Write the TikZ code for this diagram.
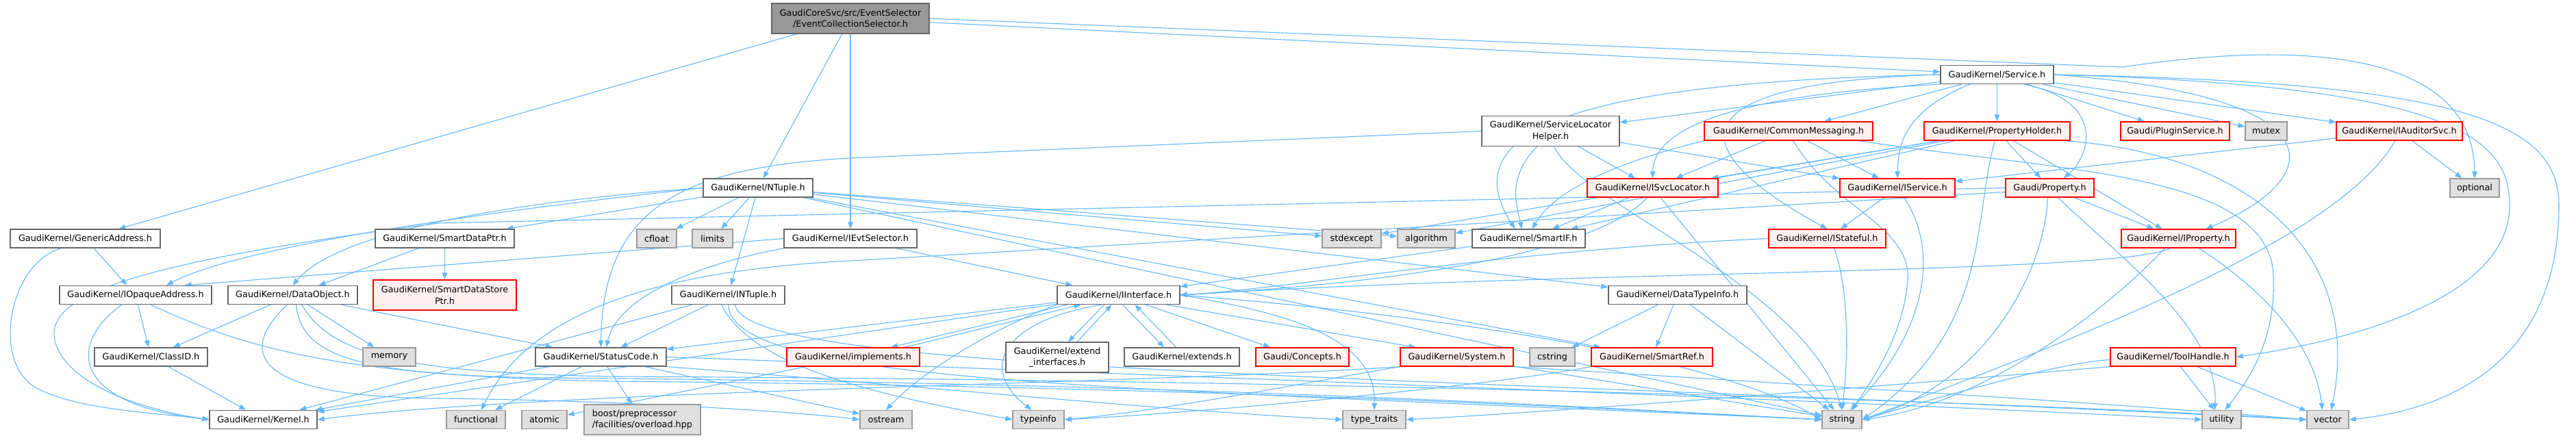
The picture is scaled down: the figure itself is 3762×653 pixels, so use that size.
\documentclass[tikz,border=0pt]{standalone}
\usepackage{fontspec}
\setmainfont{DejaVu Sans}
\usetikzlibrary{arrows.meta}
\definecolor{edgec}{HTML}{63B8FF}
\definecolor{wbd}{HTML}{666666}
\definecolor{gbd}{HTML}{999999}
\definecolor{gfill}{HTML}{E0E0E0}
\definecolor{rfill}{HTML}{FFF0F0}
\definecolor{mfill}{HTML}{999999}
\pgfdeclarelayer{edgelayer}
\pgfsetlayers{edgelayer,main}
\tikzset{
 nbase/.style={rectangle, inner sep=0pt, minimum height=27pt, line width=1.3pt, font=\fontsize{12.8}{16.5}\selectfont, align=center, text=black},
 wbox/.style={nbase, draw=wbd, fill=white},
 gbox/.style={nbase, draw=gbd, fill=gfill},
 rbox/.style={nbase, draw=red, fill=rfill},
 mbox/.style={nbase, draw=wbd, fill=mfill},
 tall/.style={minimum height=44pt},
 edg/.style={draw=edgec, line width=1.1pt, -{Triangle[length=10pt,width=7.5pt]}},
}
\begin{document}
\begin{tikzpicture}[x=1pt,y=-1pt]
\useasboundingbox (0,0) rectangle (3762,653);
% row 0-1
\node[mbox,tall,minimum width=230pt] (main) at (1242,27) {GaudiCoreSvc/src/EventSelector\\/EventCollectionSelector.h};
\node[wbox,minimum width=165pt] (svc) at (2916.5,109) {GaudiKernel/Service.h};
% row 2
\node[wbox,tall,minimum width=201pt] (slh) at (2264.5,191.5) {GaudiKernel/ServiceLocator\\Helper.h};
\node[rbox,minimum width=246pt] (cmsg) at (2612,191.5) {GaudiKernel/CommonMessaging.h};
\node[rbox,minimum width=213pt] (ph) at (2916.5,191.5) {GaudiKernel/PropertyHolder.h};
\node[rbox,minimum width=159pt] (plug) at (3176.5,191.5) {Gaudi/PluginService.h};
\node[gbox,minimum width=61pt] (mutex) at (3309.5,191.5) {mutex};
\node[rbox,minimum width=184pt] (iaud) at (3504,191.5) {GaudiKernel/IAuditorSvc.h};
% row 3
\node[wbox,minimum width=160pt] (ntup) at (1107,274.5) {GaudiKernel/NTuple.h};
\node[rbox,minimum width=191pt] (isl) at (2413.5,274.5) {GaudiKernel/ISvcLocator.h};
\node[rbox,minimum width=168pt] (isvc) at (2771,274.5) {GaudiKernel/IService.h};
\node[rbox,minimum width=129pt] (prop) at (2993.5,274.5) {Gaudi/Property.h};
\node[gbox,minimum width=72pt] (opt) at (3614,274.5) {optional};
% row 4
\node[wbox,minimum width=219pt] (ga) at (124.5,348.5) {GaudiKernel/GenericAddress.h};
\node[wbox,minimum width=203pt] (sdp) at (649.5,348.5) {GaudiKernel/SmartDataPtr.h};
\node[gbox,minimum width=58pt] (cfloat) at (959,348.5) {cfloat};
\node[gbox,minimum width=59pt] (limits) at (1040.5,348.5) {limits};
\node[wbox,minimum width=194pt] (ievt) at (1242,348.5) {GaudiKernel/IEvtSelector.h};
\node[gbox,minimum width=86pt] (stdexc) at (1974,348.5) {stdexcept};
\node[gbox,minimum width=84pt] (algo) at (2083,348.5) {algorithm};
\node[wbox,minimum width=165pt] (sif) at (2232.5,348.5) {GaudiKernel/SmartIF.h};
\node[rbox,minimum width=171pt] (istat) at (2668.5,348.5) {GaudiKernel/IStateful.h};
\node[rbox,minimum width=167pt] (iprop) at (3181.5,348.5) {GaudiKernel/IProperty.h};
% row 5
\node[wbox,minimum width=222pt] (iop) at (198,431) {GaudiKernel/IOpaqueAddress.h};
\node[wbox,minimum width=189pt] (dobj) at (427.5,431) {GaudiKernel/DataObject.h};
\node[rbox,tall,minimum width=209pt] (sdsp) at (649.5,431) {GaudiKernel/SmartDataStore\\Ptr.h};
\node[wbox,minimum width=165pt] (intup) at (1063.5,431) {GaudiKernel/INTuple.h};
\node[wbox,minimum width=179pt] (iint) at (1633.5,431) {GaudiKernel/IInterface.h};
\node[wbox,minimum width=202pt] (dti) at (2450,431) {GaudiKernel/DataTypeInfo.h};
% row 6
\node[wbox,minimum width=165pt] (cid) at (220.5,521.5) {GaudiKernel/ClassID.h};
\node[gbox,minimum width=77pt] (mem) at (568.5,521.5) {memory};
\node[wbox,minimum width=191pt] (stat) at (877.5,521.5) {GaudiKernel/StatusCode.h};
\node[rbox,minimum width=194pt] (impl) at (1246,521.5) {GaudiKernel/implements.h};
\node[wbox,tall,minimum width=150pt] (extif) at (1544,522) {GaudiKernel/extend\\\_interfaces.h};
\node[wbox,minimum width=168pt] (exts) at (1726,521.5) {GaudiKernel/extends.h};
\node[rbox,minimum width=136pt] (conc) at (1902,521.5) {Gaudi/Concepts.h};
\node[rbox,minimum width=165pt] (sys) at (2127.5,521.5) {GaudiKernel/System.h};
\node[gbox,minimum width=66pt] (cstr) at (2267,521.5) {cstring};
\node[rbox,minimum width=177pt] (sref) at (2412.5,521.5) {GaudiKernel/SmartRef.h};
\node[rbox,minimum width=183pt] (tool) at (3173.5,521.5) {GaudiKernel/ToolHandle.h};
% row 7
\node[wbox,minimum width=157pt] (kern) at (384.5,613) {GaudiKernel/Kernel.h};
\node[gbox,minimum width=86pt] (func) at (695,613) {functional};
\node[gbox,minimum width=66pt] (atom) at (795,613) {atomic};
\node[gbox,tall,minimum width=170pt,align=left] (boost) at (938,613) {boost/preprocessor\\/facilities/overload.hpp};
\node[gbox,minimum width=76pt] (ostr) at (1294,613) {ostream};
\node[gbox,minimum width=75pt] (tinfo) at (1516.5,613) {typeinfo};
\node[gbox,minimum width=92pt] (ttr) at (2007,613) {type\_traits};
\node[gbox,minimum width=58pt] (str) at (2690,613) {string};
\node[gbox,minimum width=57pt] (util) at (3244.5,613) {utility};
\node[gbox,minimum width=61pt] (vec) at (3399.5,613) {vector};

\begin{pgfonlayer}{edgelayer}
% main
\draw[edg] (main) -- (ga);
\draw[edg] (main) -- (ntup);
\draw[edg] (main) -- (ievt);
\draw[edg] (main) -- (svc);
\draw[edg] (main.east) -- (3100,98) .. controls (3350,60) and (3612,70) .. (opt.north);
% Service
\draw[edg] (svc) -- (slh);
\draw[edg] (svc) -- (cmsg);
\draw[edg] (svc) -- (ph);
\draw[edg] (svc) -- (plug);
\draw[edg] (svc) -- (mutex);
\draw[edg] (svc) -- (iaud);
\draw[edg] (svc.south west) .. controls (2600,135) and (2415,170) .. (isl.north);
\draw[edg] ([xshift=-40pt]svc.south) .. controls (2790,160) and (2772,200) .. (isvc.north);
\draw[edg] ([xshift=40pt]svc.south) .. controls (3080,150) and (3050,230) .. ([xshift=20pt]prop.north);
\draw[edg] (svc.east) .. controls (3420,140) and (3400,260) .. ([xshift=40pt]iprop.north);
\draw[edg] (svc.east) .. controls (3580,125) and (3665,200) .. (3665,300) .. controls (3665,440) and (3420,500) .. (tool.east);
\draw[edg] (svc.east) .. controls (3600,120) and (3737,180) .. (3737,300) .. controls (3737,540) and (3560,600) .. (vec.east);
\draw[edg] (svc.west) .. controls (2300,120) and (2120,190) .. ([xshift=-20pt]sif.north);
\draw[edg] (svc.west) .. controls (2460,120) and (2440,210) .. (istat.north);
% ServiceLocatorHelper
\draw[edg] (slh.west) -- (1240,231) .. controls (1000,245) and (880,300) .. (stat.north);
\draw[edg] ([xshift=-20pt]slh.south) .. controls (2200,260) and (2215,300) .. ([xshift=-10pt]sif.north);
\draw[edg] (slh) -- (isl);
\draw[edg] (slh) -- (isvc);
\draw[edg] ([xshift=5pt]slh.south) .. controls (2310,300) and (2640,420) .. (str.north);
% CommonMessaging
\draw[edg] (cmsg.south west) .. controls (2350,240) and (2270,280) .. ([xshift=5pt]sif.north);
\draw[edg] (cmsg) -- (isl);
\draw[edg] (cmsg) -- (isvc);
\draw[edg] ([xshift=7pt]cmsg.south) .. controls (2680,310) and (2800,330) .. (2785,420) .. controls (2775,500) and (2730,560) .. ([xshift=15pt]str.north);
\draw[edg] ([xshift=103pt]cmsg.south) .. controls (3000,250) and (3310,250) .. (3320,400) .. controls (3325,500) and (3280,560) .. ([xshift=5pt]util.north);
% PropertyHolder
\draw[edg] (ph) -- (stdexc);
\draw[edg] (ph) -- (algo);
\draw[edg] (ph) -- (isl);
\draw[edg] (ph) -- (sif);
\draw[edg] (ph) -- (prop);
\draw[edg] (ph) -- (iprop);
\draw[edg] ([xshift=-3pt]ph.south) .. controls (2880,320) and (2910,480) .. (str.east);
\draw[edg] ([xshift=-10pt]ph.south east) .. controls (3300,225) and (3450,380) .. ([xshift=5pt]vec.north);
% IAuditorSvc
\draw[edg] (iaud) -- (isvc);
\draw[edg] (iaud) -- (opt);
\draw[edg] ([xshift=-6pt]iaud.south) .. controls (3420,340) and (3100,470) .. (str.east);
% NTuple
\draw[edg] (ntup.west) .. controls (800,290) and (500,330) .. (dobj.north);
\draw[edg] (ntup.west) .. controls (700,310) and (350,360) .. ([xshift=45pt]iop.north);
\draw[edg] (ntup) -- ([xshift=90pt]sdp.north);
\draw[edg] (ntup) -- (cfloat);
\draw[edg] (ntup) -- (limits);
\draw[edg] (ntup) -- (intup);
\draw[edg] (ntup) -- (stdexc);
\draw[edg] (ntup) -- (algo);
\draw[edg] (ntup) -- (dti);
\draw[edg] (ntup) -- (str);
\draw[edg] (ntup) -- (sref);
% SmartDataPtr
\draw[edg] (sdp) -- (sdsp);
\draw[edg] (sdp) -- (dobj);
% IEvtSelector
\draw[edg] (ievt) -- (iint);
\draw[edg] (ievt.south west) .. controls (1000,390) and (900,440) .. ([xshift=8pt]stat.north);
\draw[edg] (ievt.west) -- ([xshift=-40pt]iop.north east);
% INTuple
\draw[edg] (intup) -- (stat);
\draw[edg] (intup) -- (kern);
\draw[edg] (intup.south) .. controls (1070,560) and (1600,565) .. (str.west);
\draw[edg] ([xshift=10pt]intup.south) .. controls (1090,545) and (2000,545) .. (vec.west);
\draw[edg] ([xshift=-10pt]intup.south) .. controls (1100,540) and (1300,580) .. (tinfo.west);
% GenericAddress, IOpaqueAddress, ClassID
\draw[edg] (ga) -- (iop);
\draw[edg] ([xshift=-35pt]ga.south) .. controls (10,385) and (-15,540) .. (60,570) .. controls (120,600) and (250,605) .. (kern.west);
\draw[edg] (iop) -- (cid);
\draw[edg] ([xshift=-20pt]iop.south) .. controls (100,500) and (100,590) .. (kern.west);
\draw[edg] ([xshift=22pt]iop.south) .. controls (360,510) and (500,550) .. (900,557) .. controls (1800,565) and (2400,600) .. (str.west);
\draw[edg] (cid) -- (kern);
% DataObject
\draw[edg] (dobj) -- (cid);
\draw[edg] (dobj) -- (mem);
\draw[edg] (dobj) -- (stat);
\draw[edg] ([xshift=5pt]dobj.south) .. controls (440,520) and (520,548) .. (800,552) .. controls (1800,560) and (2400,600) .. (str.west);
\draw[edg] ([xshift=13pt]dobj.south) .. controls (480,510) and (560,545) .. (900,550) .. controls (2000,555) and (3000,590) .. (vec.west);
\draw[edg] ([xshift=-8pt]dobj.south) .. controls (340,520) and (380,580) .. (640,582) .. controls (900,585) and (1150,600) .. (ostr.west);
% StatusCode
\draw[edg] (stat) -- (kern);
\draw[edg] (stat) -- (func);
\draw[edg] (stat) -- (boost);
\draw[edg] (stat) -- (ostr);
\draw[edg] (stat.south east) .. controls (1300,560) and (1700,600) .. (ttr.west);
\draw[edg] (stat.east) .. controls (1500,540) and (2800,590) .. (util.west);
% IInterface
\draw[edg] (iint) -- (stat);
\draw[edg] (iint) -- (kern);
\draw[edg] ([xshift=-21pt]iint.south) -- ([xshift=16pt]extif.north);
\draw[edg] ([xshift=29pt]extif.north) -- ([xshift=-10pt]iint.south);
\draw[edg] ([xshift=6pt]iint.south) -- ([xshift=-26pt]exts.north);
\draw[edg] ([xshift=-8pt]exts.north) -- ([xshift=24pt]iint.south);
\draw[edg] ([xshift=40pt]iint.south) -- ([xshift=-47pt]conc.north);
\draw[edg] ([xshift=-75pt]iint.south) -- ([xshift=55pt]impl.north);
\draw[edg] ([xshift=75pt]impl.north) -- ([xshift=-55pt]iint.south);
\draw[edg] (iint.south west) .. controls (1450,480) and (1350,540) .. (ostr.north);
\draw[edg] ([xshift=-25pt]iint.south) .. controls (1460,470) and (1430,540) .. ([xshift=-10pt]tinfo.north);
\draw[edg] (iint.east) .. controls (1900,460) and (2010,500) .. (ttr.north);
\draw[edg] ([xshift=70pt]iint.south) -- ([xshift=-60pt]sys.north);
\draw[edg] (iint.east) .. controls (2100,460) and (2500,520) .. (str.west);
% implements
\draw[edg] (impl) -- (atom);
% System
\draw[edg] (sys.south west) .. controls (1700,560) and (800,570) .. (kern.east);
\draw[edg] (sys.south west) .. controls (1900,560) and (1700,600) .. (tinfo.east);
\draw[edg] (sys) -- (str);
\draw[edg] (sys.south east) .. controls (2600,560) and (3100,590) .. (vec.west);
% DataTypeInfo, SmartRef
\draw[edg] (dti) -- (cstr);
\draw[edg] (dti) -- (sref);
\draw[edg] (dti) -- (str);
\draw[edg] (sref.south west) .. controls (2200,560) and (1800,600) .. (tinfo.east);
% ISvcLocator, SmartIF, IService, IStateful
\draw[edg] ([xshift=-8pt]isl.south) .. controls (2340,360) and (2100,410) .. (iint.east);
\draw[edg] (isl) -- (sif);
\draw[edg] (isl) -- (str);
\draw[edg] (sif) -- (iint);
\draw[edg] (isvc) -- (istat);
\draw[edg] ([xshift=10pt]isvc.south) .. controls (2840,380) and (2800,500) .. ([xshift=12pt]str.north);
\draw[edg] (istat.west) .. controls (2200,365) and (1900,420) .. (iint.east);
\draw[edg] ([xshift=10pt]istat.south) .. controls (2700,420) and (2700,520) .. (str.north);
% IProperty, Property
\draw[edg] ([xshift=-12pt]iprop.south) .. controls (3100,400) and (2300,395) .. (iint.east);
\draw[edg] ([xshift=-20pt]iprop.south) .. controls (3080,450) and (2900,590) .. (str.east);
\draw[edg] ([xshift=30pt]iprop.south) .. controls (3300,420) and (3380,500) .. ([xshift=-8pt]vec.north);
\draw[edg] (prop) -- (iprop);
\draw[edg] ([xshift=-3pt]prop.south) .. controls (2985,400) and (2900,560) .. (str.east);
\draw[edg] ([xshift=12pt]prop.south) .. controls (3100,380) and (3240,480) .. ([xshift=-10pt]util.north);
\draw[edg] (prop.west) -- (640,326) .. controls (150,390) and (40,440) .. (90,520) .. controls (130,580) and (250,605) .. (kern.west);
\draw[edg] ([yshift=-6pt]prop.west) -- (1260,380) .. controls (1000,392) and (780,440) .. ([xshift=8pt]func.north);
% ToolHandle
\draw[edg] (tool) -- (util);
\draw[edg] (tool) -- (vec);
\draw[edg] ([yshift=-4pt]tool.west) .. controls (3000,530) and (2800,590) .. (str.east);
\draw[edg] (tool.south west) .. controls (2800,560) and (2300,600) .. (ttr.east);
\end{pgfonlayer}
\end{tikzpicture}
\end{document}
